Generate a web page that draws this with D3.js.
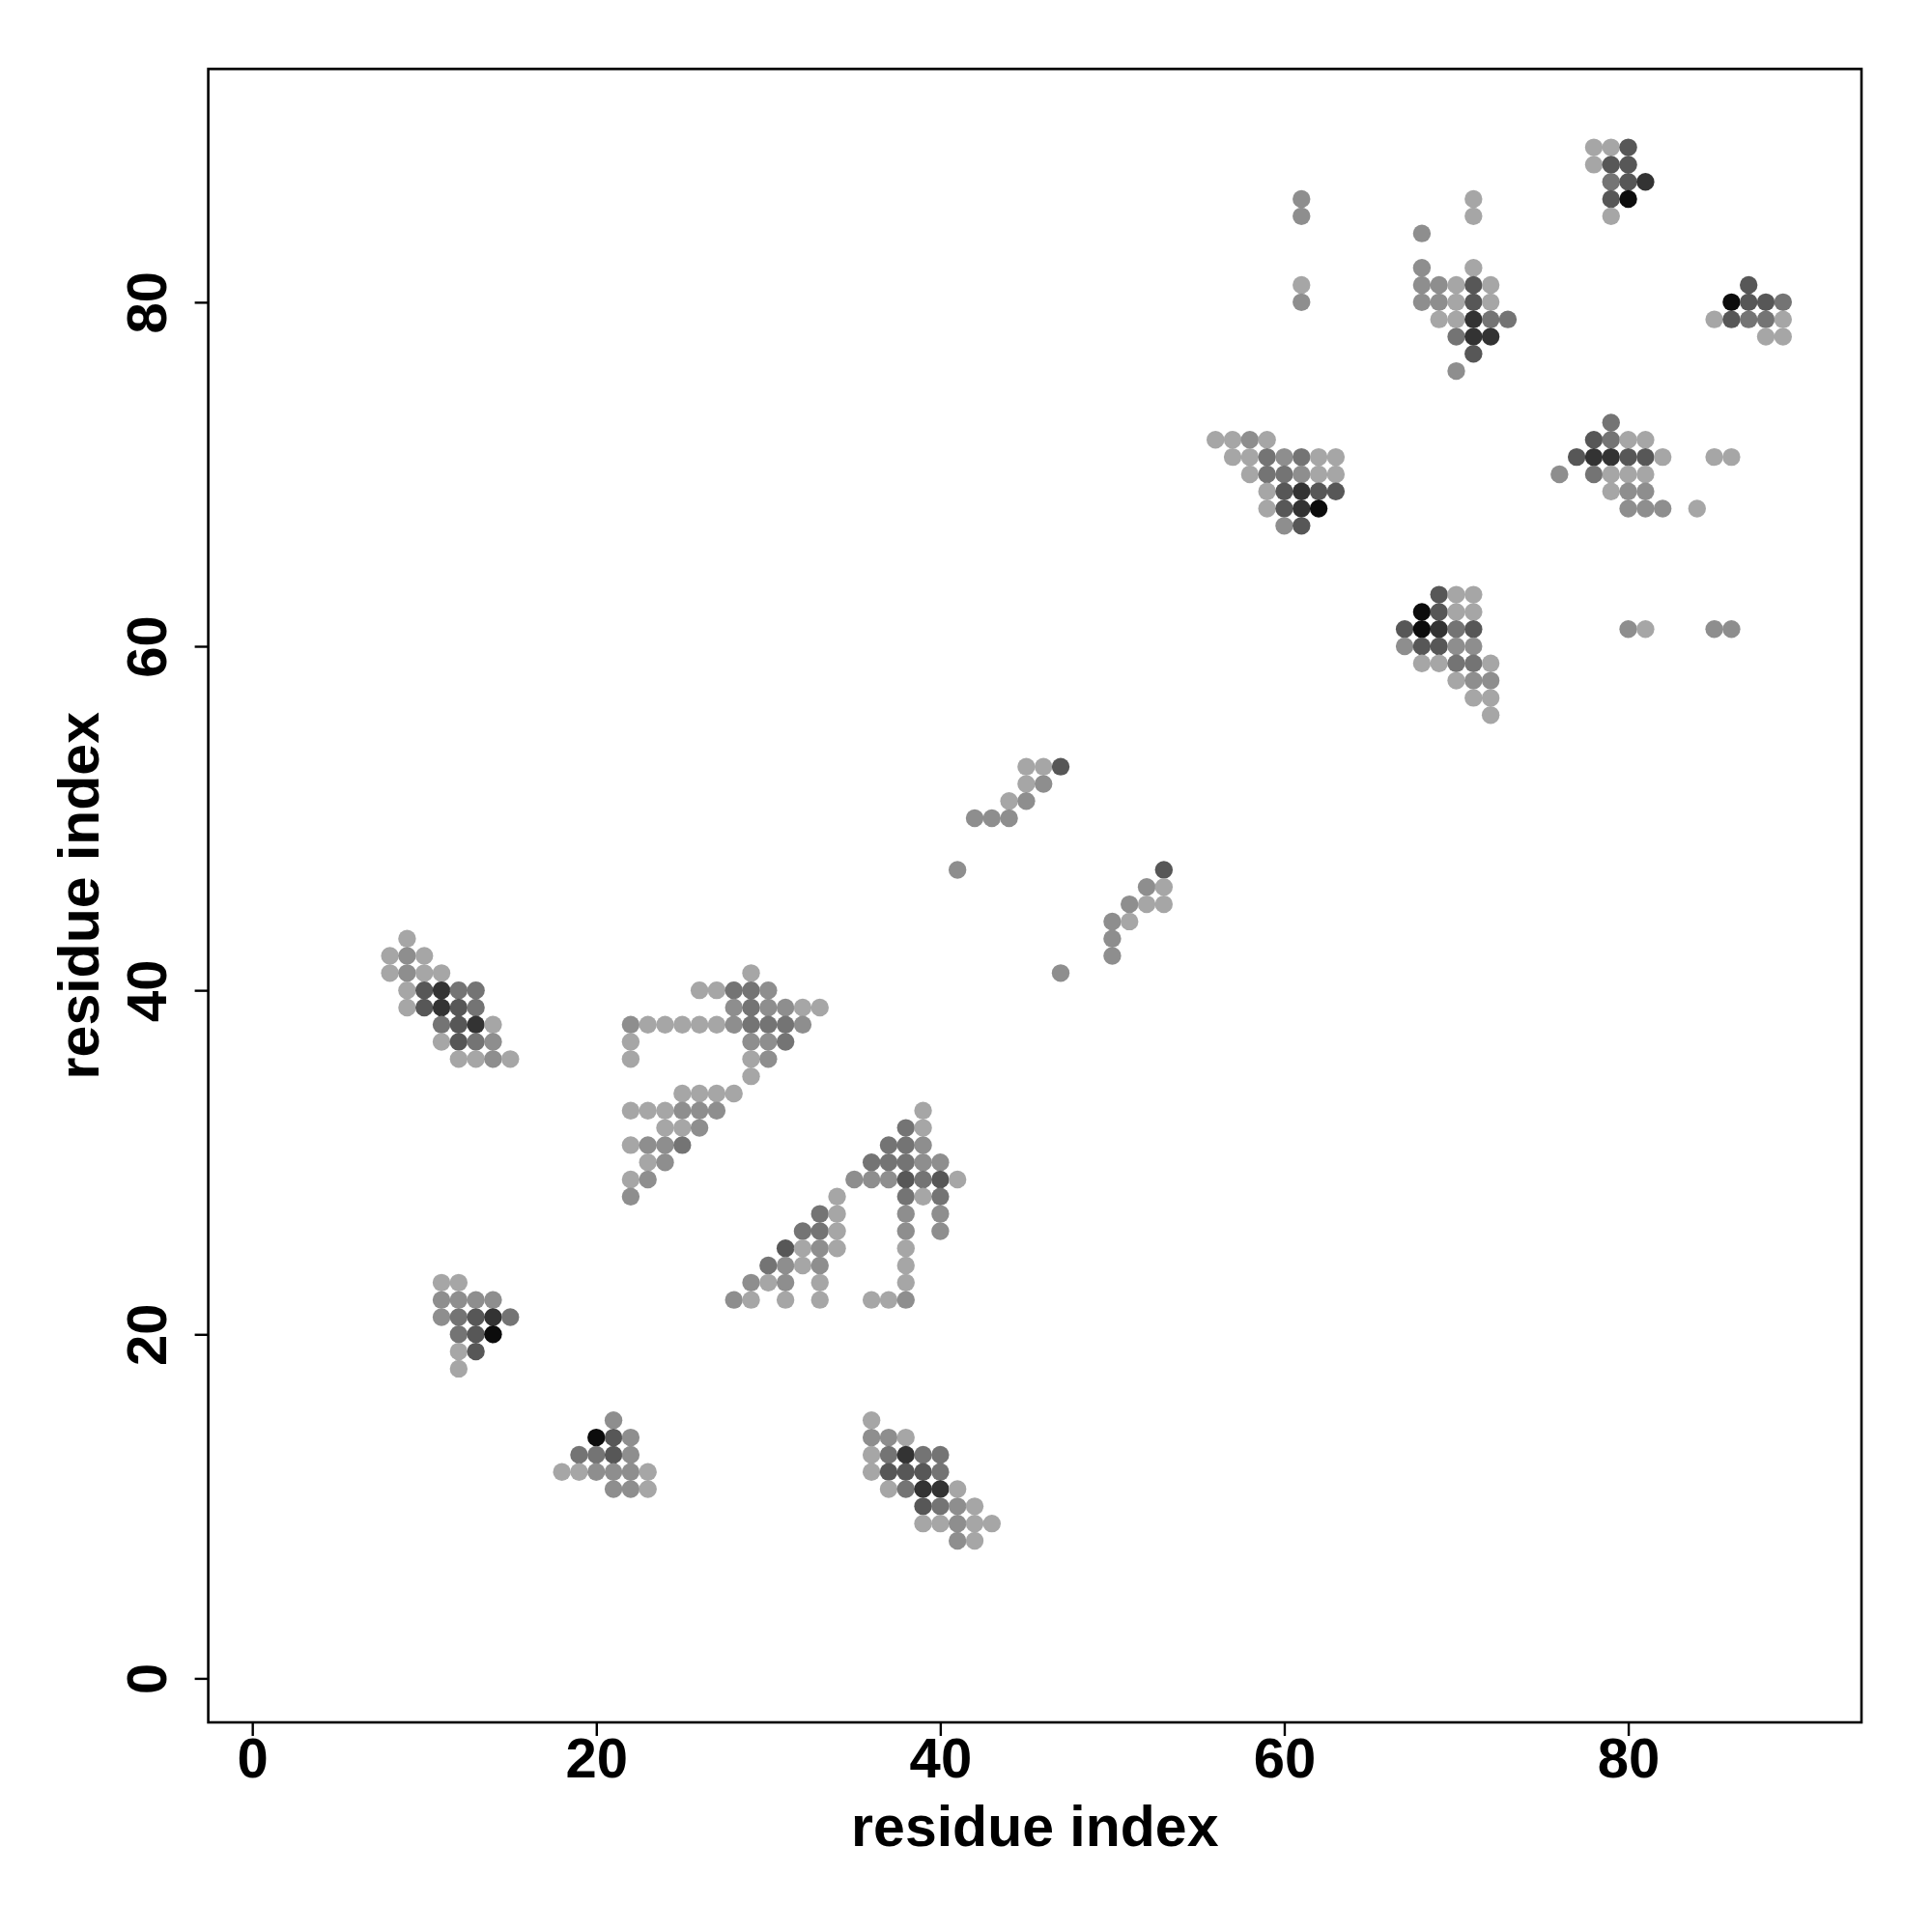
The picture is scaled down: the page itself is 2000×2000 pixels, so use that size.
<!DOCTYPE html>
<html>
<head>
<meta charset="utf-8">
<script src="https://cdn.jsdelivr.net/npm/d3@7"></script>
<style>
  html, body { margin: 0; padding: 0; background: #fff; }
  svg { display: block; }
  text { font-family: "Liberation Sans", Arial, Helvetica, sans-serif; font-weight: bold; }
</style>
</head>
<body>
<svg id="chart" width="2000" height="2000"></svg>
<script>
// ---- data: [residue i, residue j, contact level (1 = light .. 6 = black)] ----
const clusterA = [
  [9,43,1],
  [8,42,1],[9,42,2],[10,42,1],
  [8,41,1],[9,41,2],[10,41,1],[11,41,1],
  [9,40,1],[10,40,4],[11,40,5],[12,40,3],[13,40,3],
  [9,39,1],[10,39,4],[11,39,5],[12,39,4],[13,39,3],
  [11,38,3],[12,38,4],[13,38,5],[14,38,1],
  [11,37,1],[12,37,4],[13,37,3],[14,37,2],
  [12,36,1],[13,36,1],[14,36,2],[15,36,1]
];
const clusterB = [
  [11,23,1],[12,23,1],
  [11,22,2],[12,22,2],[13,22,2],[14,22,2],
  [11,21,2],[12,21,3],[13,21,4],[14,21,5],[15,21,3],
  [12,20,3],[13,20,4],[14,20,6],
  [12,19,1],[13,19,4],
  [12,18,1]
];
const clusterC = [
  [21,15,2],
  [20,14,6],[21,14,4],[22,14,2],
  [19,13,3],[20,13,3],[21,13,4],[22,13,2],
  [18,12,1],[19,12,1],[20,12,2],[21,12,2],[22,12,2],[23,12,1],
  [21,11,2],[22,11,2],[23,11,1]
];
const clusterD = [
  [36,15,1],
  [36,14,2],[37,14,2],[38,14,1],
  [36,13,1],[37,13,3],[38,13,5],[39,13,3],[40,13,3],
  [36,12,1],[37,12,4],[38,12,4],[39,12,4],[40,12,3],
  [37,11,1],[38,11,3],[39,11,5],[40,11,5],[41,11,1],
  [39,10,4],[40,10,3],[41,10,2],[42,10,1],
  [39,9,1],[40,9,1],[41,9,2],[42,9,1],[43,9,1],
  [41,8,2],[42,8,1]
];
const clusterE = [
  [29,41,1],
  [26,40,1],[27,40,1],[28,40,3],[29,40,3],[30,40,2],
  [28,39,2],[29,39,3],[30,39,2],[31,39,2],[32,39,1],[33,39,1],
  [22,38,2],[23,38,1],[24,38,1],[25,38,1],[26,38,1],[27,38,1],[28,38,2],[29,38,3],[30,38,3],[31,38,3],[32,38,2],
  [22,37,1],[29,37,2],[30,37,2],[31,37,3],
  [22,36,1],[29,36,1],[30,36,2],
  [29,35,1],
  [25,34,1],[26,34,1],[27,34,1],[28,34,1],
  [22,33,1],[23,33,1],[24,33,1],[25,33,2],[26,33,2],[27,33,2],
  [24,32,1],[25,32,1],[26,32,2],
  [22,31,1],[23,31,2],[24,31,2],[25,31,3],
  [23,30,1],[24,30,2],
  [22,29,1],[23,29,2],
  [22,28,2]
];
const clusterF = [
  [34,28,1],
  [33,27,3],[34,27,1],
  [32,26,3],[33,26,3],[34,26,1],
  [31,25,4],[32,25,1],[33,25,2],[34,25,1],
  [30,24,3],[31,24,2],[32,24,1],[33,24,2],
  [29,23,2],[30,23,1],[31,23,2],[33,23,1],
  [28,22,2],[29,22,1],[31,22,1],[33,22,1]
];
const clusterG = [
  [39,33,1],
  [38,32,3],[39,32,1],
  [37,31,3],[38,31,3],[39,31,2],
  [36,30,3],[37,30,3],[38,30,3],[39,30,2],[40,30,2],
  [35,29,2],[36,29,2],[37,29,2],[38,29,4],[39,29,3],[40,29,4],[41,29,1],
  [38,28,3],[39,28,1],[40,28,3],
  [38,27,2],[40,27,2],
  [38,26,2],[40,26,2],
  [38,25,1],[38,24,1],[38,23,1],
  [36,22,1],[37,22,1],[38,22,2]
];
const clusterH = [
  [45,53,1],[46,53,1],[47,53,4],
  [45,52,1],[46,52,2],
  [44,51,1],[45,51,2],
  [42,50,2],[43,50,2],[44,50,2],
  [41,47,2],[53,47,4],
  [52,46,2],[53,46,1],
  [51,45,2],[52,45,1],[53,45,1],
  [50,44,2],[51,44,1],
  [50,43,2],[50,42,2],
  [47,41,2]
];
const clusterI = [
  [56,72,1],[57,72,1],[58,72,2],[59,72,1],
  [57,71,1],[58,71,1],[59,71,3],[60,71,2],[61,71,3],[62,71,1],[63,71,1],
  [58,70,1],[59,70,3],[60,70,3],[61,70,2],[62,70,1],[63,70,1],
  [59,69,1],[60,69,4],[61,69,5],[62,69,4],[63,69,4],
  [59,68,1],[60,68,4],[61,68,5],[62,68,6],
  [60,67,2],[61,67,4]
];
const clusterJ = [
  [69,63,4],[70,63,1],[71,63,1],
  [68,62,6],[69,62,4],[70,62,1],[71,62,1],
  [67,61,4],[68,61,6],[69,61,5],[70,61,3],[71,61,4],
  [67,60,2],[68,60,4],[69,60,4],[70,60,2],[71,60,2],
  [68,59,1],[69,59,1],[70,59,3],[71,59,3],[72,59,1],
  [70,58,1],[71,58,2],[72,58,2],
  [71,57,1],[72,57,1],
  [72,56,1]
];
const clusterK = [
  [61,86,2],[61,85,2],[61,81,1],[61,80,2],
  [71,86,1],[71,85,1],
  [68,84,2],
  [68,82,2],[71,82,1],
  [68,81,2],[69,81,2],[70,81,1],[71,81,4],[72,81,1],
  [68,80,2],[69,80,2],[70,80,1],[71,80,4],[72,80,1],
  [69,79,1],[70,79,1],[71,79,5],[72,79,3],[73,79,3],
  [70,78,3],[71,78,5],[72,78,5],
  [71,77,4],
  [70,76,2]
];
const clusterL = [
  [78,89,1],[79,89,1],[80,89,4],
  [78,88,1],[79,88,4],[80,88,4],
  [79,87,3],[80,87,4],[81,87,5],
  [79,86,4],[80,86,6],
  [79,85,1]
];
const clusterM = [
  [87,81,4],
  [86,80,6],[87,80,4],[88,80,4],[89,80,3],
  [85,79,1],[86,79,4],[87,79,3],[88,79,3],[89,79,1],
  [88,78,1],[89,78,1]
];
const clusterN = [
  [79,73,3],
  [78,72,4],[79,72,3],[80,72,1],[81,72,1],
  [77,71,4],[78,71,5],[79,71,5],[80,71,4],[81,71,4],[82,71,1],[85,71,1],[86,71,1],
  [76,70,2],[78,70,3],[79,70,1],[80,70,1],[81,70,1],
  [79,69,1],[80,69,2],[81,69,2],
  [80,68,2],[81,68,2],[82,68,2],[84,68,1],
  [80,61,2],[81,61,1],[85,61,2],[86,61,2]
];
const xTicks = [0, 20, 40, 60, 80];
const yTicks = [0, 20, 40, 60, 80];
const xLabel = "residue index";
const yLabel = "residue index";
const levels = [1, 2, 3, 4, 5, 6];
const levelGrays = ["#a6a6a6", "#8e8e8e", "#747474", "#575757", "#333333", "#0c0c0c"];

// ---- layout ----
const plot = { left: 215.6, right: 1927, top: 71.4, bottom: 1783 };
const lim = [1, 90];
const pad = 0.04 * (lim[1] - lim[0]);

const x = d3.scaleLinear().domain([lim[0] - pad, lim[1] + pad]).range([plot.left, plot.right]);
const y = d3.scaleLinear().domain([lim[0] - pad, lim[1] + pad]).range([plot.bottom, plot.top]);
const color = d3.scaleOrdinal().domain(levels).range(levelGrays);

const svg = d3.select("#chart");

const contacts = [].concat(clusterA, clusterB, clusterC, clusterD, clusterE, clusterF, clusterG,
  clusterH, clusterI, clusterJ, clusterK, clusterL, clusterM, clusterN)
  .map(d => ({ i: d[0], j: d[1], level: d[2] }));

svg.append("g")
  .selectAll("circle")
  .data(contacts)
  .join("circle")
  .attr("cx", d => x(d.i))
  .attr("cy", d => y(d.j))
  .attr("r", 9.2)
  .attr("fill", d => color(d.level));

// frame
svg.append("rect")
  .attr("x", plot.left).attr("y", plot.top)
  .attr("width", plot.right - plot.left).attr("height", plot.bottom - plot.top)
  .attr("fill", "none").attr("stroke", "#000").attr("stroke-width", 2.6);

// x axis
const xAxis = d3.axisBottom(x).tickValues(xTicks).tickSize(14).tickPadding(10).tickFormat(d3.format("d"));
const gx = svg.append("g").attr("transform", `translate(0,${plot.bottom})`).call(xAxis);
gx.select(".domain").remove();
gx.selectAll(".tick line").attr("stroke", "#000").attr("stroke-width", 2.4);
gx.selectAll(".tick text")
  .attr("fill", "#000")
  .attr("font-size", 58)
  .attr("font-family", "'Liberation Sans', Arial, sans-serif")
  .attr("font-weight", "bold")
  .attr("dy", null)
  .attr("y", 57);

// y axis
const yAxis = d3.axisLeft(y).tickValues(yTicks).tickSize(14).tickFormat(d3.format("d"));
const gy = svg.append("g").attr("transform", `translate(${plot.left},0)`).call(yAxis);
gy.select(".domain").remove();
gy.selectAll(".tick line").attr("stroke", "#000").attr("stroke-width", 2.4);
gy.selectAll(".tick text")
  .attr("fill", "#000")
  .attr("font-size", 58)
  .attr("font-family", "'Liberation Sans', Arial, sans-serif")
  .attr("font-weight", "bold")
  .attr("x", null).attr("dy", null)
  .attr("text-anchor", "middle")
  .attr("transform", `translate(${172 - plot.left},0) rotate(-90)`);

// axis titles
svg.append("text")
  .attr("x", (plot.left + plot.right) / 2)
  .attr("y", 1911)
  .attr("text-anchor", "middle")
  .attr("font-size", 59)
  .text(xLabel);

svg.append("text")
  .attr("transform", `translate(102,${(plot.top + plot.bottom) / 2}) rotate(-90)`)
  .attr("text-anchor", "middle")
  .attr("font-size", 59)
  .text(yLabel);
</script>
</body>
</html>
